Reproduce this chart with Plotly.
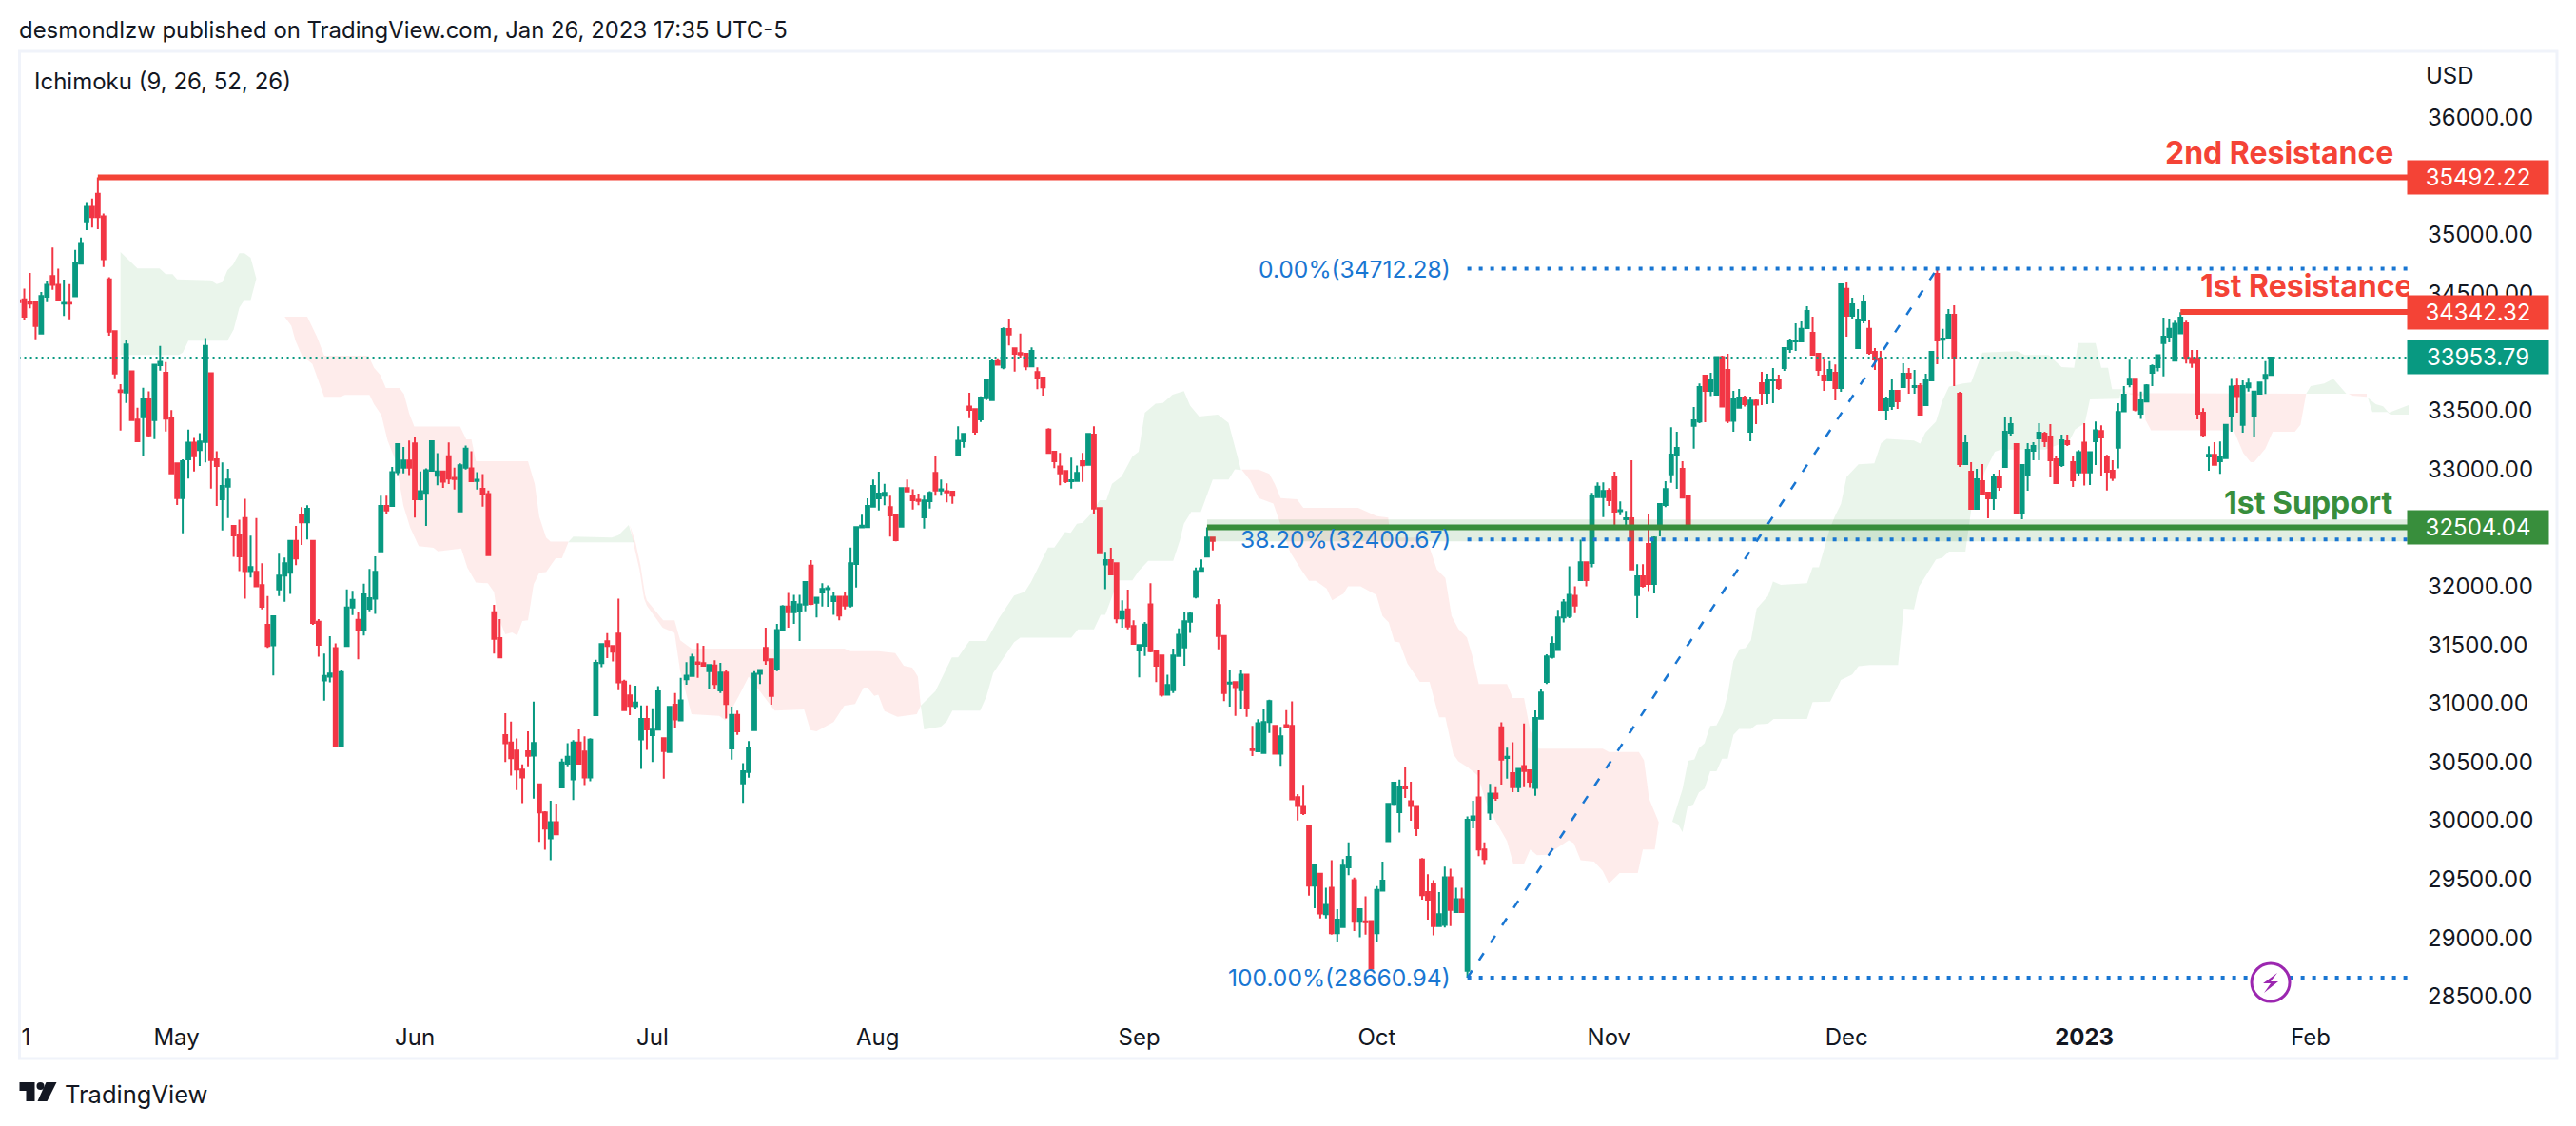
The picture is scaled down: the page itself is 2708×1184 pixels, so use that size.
import plotly.graph_objects as go

# --- candles, one per bar ---
open_ = [
    34442,34451,34426,34426,34159,34473,34650,34575,34414,34420,
    34476,34755,35116,35240,35352,35159,34622,34178,33674,33656,
    33836,33423,33445,33603,33420,33889,33824,33438,33050,32755,
    33084,33227,33165,33233,33820,33084,32743,32851,32516,32444,
    32584,32132,32126,32011,31673,31499,31975,32093,32116,32388,
    32609,32547,32388,31699,31197,31230,31473,30639,31492,31821,
    31716,31630,31811,31896,32299,32687,32687,32976,33013,33075,
    33221,32743,32799,32988,32945,32982,33112,32926,32640,33013,
    33007,32901,32833,32789,31781,31558,30731,30669,30600,30436,
    30593,30557,30311,30071,29851,29989,30285,30488,30354,30669,
    30590,30370,30902,31345,31532,31492,31598,31187,31069,30978,
    30695,30869,30731,30777,30705,30587,30991,30857,31208,31236,
    31351,31345,31277,31326,31112,31264,30618,30904,30320,30416,
    30773,31255,31475,31379,31298,31628,31829,31780,31786,31845,
    32177,31861,31948,31976,31876,31913,31913,31836,32193,32504,
    32507,32681,32752,32774,32677,32612,32510,32839,32774,32739,
    32590,32727,32969,32820,32814,32808,33125,33240,33535,33513,
    33426,33606,33591,33923,33870,34196,34032,33991,33985,33879,
    33830,33783,33339,33150,33025,32985,32898,32901,33069,33038,
    33295,32668,32187,32224,32199,31727,31805,31662,31454,31494,
    31848,31447,31410,31075,31115,31407,31479,31699,31913,32134,
    32255,32417,31842,31578,31171,31183,31115,31246,30609,30593,
    30578,30842,30811,30572,30817,30811,30202,30127,29960,29446,
    29547,29203,29428,29040,29094,29602,29493,29138,29142,29145,
    29040,29403,29826,30145,30073,30287,30167,30127,29670,29391,
    29457,29101,29112,29518,29221,29330,28721,30008,30200,29754,
    30069,30232,30797,30536,30406,30287,30468,30431,30280,30870,
    31185,31399,31457,31736,31747,31921,32055,32207,32200,32762,
    32762,32817,32939,32642,32574,32582,31927,32087,32363,32022,
    32501,32696,32958,33120,33004,32769,33372,33407,33800,33670,
    33637,33957,33848,33413,33526,33613,33321,33586,33735,33654,
    33759,33767,33865,34027,34092,34092,34206,34165,33986,33800,
    33759,33824,33694,34539,34311,34035,34271,34198,34003,33946,
    33507,33540,33670,33702,33816,33702,33710,33548,33759,34668,
    34106,34124,34319,33646,33045,32980,32663,32899,32801,32753,
    32939,33020,33313,33215,32631,32955,33158,33264,33305,33280,
    33085,33037,33240,33061,32974,33226,32974,33240,33326,33110,
    32988,33185,33494,33727,33773,33475,33578,33824,33873,34078,
    34133,33927,34160,34246,33949,33949,33483,33110,33123,33069,
    33096,33453,33710,33380,33700,33453,33646,33773,33805,
]
high = [
    34560,34541,34675,34426,34513,34606,34892,34712,34619,34581,
    34873,34979,35280,35311,35492,35184,34640,34178,33727,34103,
    33836,33525,33696,33665,33898,34053,33914,33504,33050,33084,
    33339,33268,33308,34119,33820,33153,33059,33004,32516,32569,
    32749,32434,32584,32198,31919,31745,32280,32247,32388,32516,
    32677,32693,32388,31722,31427,31575,31515,31286,31975,31962,
    31781,32024,32149,32257,32774,32774,33019,33215,33190,33246,
    33271,32982,33007,33246,33137,32982,33230,33013,33050,33202,
    33153,32976,32960,32820,31844,31722,30918,30846,30702,30482,
    30764,31017,30311,30081,30170,30147,30531,30662,30688,30780,
    30721,30705,31374,31509,31601,31499,31896,31204,31164,31154,
    30984,30984,30961,31148,30705,30972,31090,31221,31354,31426,
    31516,31494,31329,31370,31348,31283,30975,30941,30491,30680,
    31277,31292,31649,31379,31680,31842,31944,31929,31929,32038,
    32224,31904,32028,32010,31951,31913,31954,32333,32507,32612,
    32752,32913,32979,32876,32774,32612,32845,32913,32830,32792,
    32774,32814,33109,32913,32879,32814,33367,33311,33653,33519,
    33622,33768,33942,33948,34212,34286,34032,34159,33985,34041,
    33870,33783,33351,33150,33140,32994,33100,33032,33140,33302,
    33367,32668,32295,32330,32199,31882,31972,31711,31500,31696,
    32028,31447,31410,31246,31469,31643,31783,31780,32162,32230,
    32504,32426,31892,31578,31283,31183,31283,31246,30811,30867,
    30950,31034,30811,30801,30944,31019,30227,30307,29960,29620,
    29547,29428,29663,29246,29674,29815,29515,29246,29355,29145,
    29442,29652,30145,30333,30352,30460,30333,30127,29681,29544,
    29493,29391,29609,29591,29428,29428,30036,30171,30431,29815,
    30316,30287,30841,30624,30671,30442,30830,30431,30942,31120,
    31421,31573,31801,31892,32171,32001,32399,32207,32798,32889,
    32889,32839,32980,32725,32644,33077,32190,32190,32615,32428,
    32709,32899,33359,33321,33069,32769,33532,33732,33800,33824,
    33962,33970,33986,33670,33686,33629,33621,33597,33832,33816,
    33865,33808,34035,34116,34246,34262,34392,34303,33995,33938,
    33922,33894,34579,34595,34465,34368,34490,34279,34035,34011,
    33621,33775,33670,33905,33865,33848,33735,33816,34003,34712,
    34198,34368,34400,33662,33296,33061,33004,33045,32801,32964,
    32996,33443,33443,33223,33037,33223,33231,33394,33321,33386,
    33110,33296,33296,33118,33164,33394,33145,33407,33375,33123,
    33077,33564,33710,33935,33773,33664,33727,33894,33976,34295,
    34287,34268,34341,34268,34019,34019,33521,33196,33231,33237,
    33380,33778,33781,33759,33781,33664,33740,33922,33962,
]
low = [
    34411,34277,34373,34109,34159,34426,34532,34442,34308,34280,
    34476,34749,35041,35063,35050,34727,34140,33777,33330,33566,
    33420,33240,33112,33277,33258,33842,33323,32966,32696,32454,
    32920,32982,33028,33059,32836,32687,32479,32584,32252,32132,
    31896,32077,32001,31804,31476,31240,31919,31870,31936,32182,
    32354,32401,31673,31401,31026,31181,30639,30639,31486,31755,
    31378,31581,31788,31765,32299,32615,32687,32951,32966,32951,
    32587,32733,32516,32982,32864,32842,32873,32827,32640,32997,
    32898,32827,32681,32267,31427,31394,30501,30386,30262,30150,
    30465,30190,29819,29753,29664,29884,30278,30465,30176,30488,
    30304,30337,30902,31312,31388,31361,31115,30944,30902,30951,
    30442,30606,30501,30777,30360,30578,30795,30848,31162,31230,
    31221,31323,31128,31121,31090,30873,30522,30733,30152,30367,
    30773,31168,31332,30991,31277,31628,31649,31680,31534,31789,
    31842,31736,31829,31826,31758,31711,31805,31820,31991,32504,
    32500,32681,32649,32693,32426,32385,32510,32811,32656,32693,
    32494,32665,32774,32774,32718,32705,33125,33184,33435,33296,
    33404,33591,33591,33889,33855,34056,33833,33954,33845,33879,
    33684,33628,33140,33010,32864,32882,32836,32892,32892,33038,
    32622,32283,31976,32094,31687,31649,31634,31510,31224,31407,
    31438,31183,31059,31075,31090,31407,31323,31603,31898,32131,
    32255,32308,31463,31022,30975,30895,30950,30888,30553,30587,
    30572,30749,30572,30469,30801,30183,30003,30049,29362,29254,
    29167,29167,29029,28964,29094,29536,29058,29007,29029,28739,
    28964,29403,29826,30134,29899,30196,30000,29870,29326,29156,
    29022,29101,29090,29101,29221,29221,28661,29935,29699,29623,
    30008,30171,30308,30359,30243,30243,30287,30280,30214,30870,
    31167,31384,31457,31693,31729,31773,32055,32001,32164,32755,
    32591,32688,32495,32609,32501,32146,31730,31992,31960,31941,
    32428,32677,32885,32834,32753,32487,33177,33394,33402,33624,
    33629,33535,33394,33321,33526,33535,33240,33386,33548,33556,
    33564,33678,33840,33995,34011,34089,34206,33978,33800,33670,
    33759,33589,33662,34133,34287,34035,34246,33978,33848,33499,
    33418,33507,33516,33694,33646,33646,33467,33548,33751,33897,
    33962,34124,33710,33020,33037,32655,32663,32793,32582,32655,
    32817,33020,33288,32615,32574,32817,33077,33077,33191,32931,
    32874,33020,33199,32850,32947,32861,32866,33037,32947,32820,
    32901,33007,33494,33700,33494,33429,33575,33710,33835,33794,
    34084,33922,34160,33903,33867,33426,33272,32988,33039,32961,
    33096,33321,33483,33313,33664,33280,33646,33643,33800,
]
close = [
    34426,34302,34414,34224,34479,34575,34575,34442,34420,34414,
    34762,34932,35240,35153,35153,34793,34175,33817,33659,34066,
    33420,33240,33603,33289,33892,33917,33432,32966,32755,33069,
    33227,33112,33237,34053,33078,33028,32858,32913,32435,32257,
    32132,32165,32001,31827,31492,31745,32093,32198,32388,32238,
    32547,32662,31689,31502,31237,31256,30639,31269,31821,31886,
    31630,31932,31899,32126,32687,32649,32976,33215,33075,33013,
    32743,32814,32991,33240,32982,32895,32920,32917,33035,33177,
    32898,32910,32786,32267,31552,31394,30662,30534,30436,30370,
    30554,30665,30071,29934,29989,29884,30498,30547,30669,30488,
    30370,30692,31348,31509,31492,31443,31181,30944,30981,31010,
    30869,30780,30777,31105,30596,30972,30864,31028,31239,31395,
    31339,31323,31329,31168,31264,30997,30904,30764,30422,30624,
    31255,31286,31370,31065,31628,31829,31780,31867,31848,32038,
    31851,31904,31979,31985,31913,31752,31836,32199,32507,32519,
    32687,32858,32792,32799,32606,32395,32839,32811,32736,32730,
    32733,32799,32820,32830,32802,32774,33243,33302,33507,33320,
    33612,33758,33920,33892,34196,34150,33985,33979,33879,34010,
    33774,33699,33140,33069,32966,32898,32907,32969,33035,33302,
    32665,32283,32224,32103,31727,31789,31659,31510,31500,31674,
    31447,31323,31075,31159,31410,31587,31702,31767,32131,32156,
    32417,32389,31578,31090,31180,31140,31246,30960,30603,30832,
    30842,31022,30572,30721,30801,30183,30127,30065,29446,29620,
    29210,29283,29040,29156,29616,29692,29138,29246,29134,28739,
    29410,29489,30145,30326,30287,30276,30127,29935,29366,29326,
    29101,29203,29518,29239,29330,29221,30008,30036,29754,29674,
    30232,30196,30522,30547,30287,30442,30424,30334,30877,31095,
    31403,31511,31736,31863,31928,31837,32207,32055,32769,32852,
    32816,32736,32639,32650,32582,32146,32087,32006,32022,32417,
    32704,32831,33126,33183,32758,32509,33418,33702,33670,33759,
    33957,33535,33413,33597,33613,33556,33586,33551,33654,33759,
    33767,33694,34035,34100,34097,34198,34352,33978,33848,33759,
    33848,33694,34579,34311,34409,34279,34425,33995,33938,33507,
    33605,33670,33581,33816,33775,33710,33467,33767,34003,34100,
    34116,34319,33954,33045,33223,32663,32915,32793,32753,32939,
    32850,33321,33386,32631,33037,33167,33199,33313,33240,33077,
    32882,33248,33215,32907,33145,32974,33145,33332,33272,32980,
    32926,33489,33637,33773,33510,33589,33716,33881,33973,34133,
    34198,34241,34295,33943,33908,33475,33294,33123,33039,33104,
    33380,33705,33624,33710,33732,33664,33740,33805,33954,
]
bars = list(range(len(open_)))

# --- ichimoku cloud, outline of each coloured patch: upper side then lower side ---
green1_x = [18,21,24.9,26,27.2,28,33.9,35,36,36.9,37.9,39,39.9,41,42,41,39.9,39,38,36.9,30,29,28.3,18]
green1_y = [34855,34715,34715,34665,34665,34622,34612,34581,34597,34699,34746,34845,34845,34805,34628,34445,34445,34380,34193,34097,34097,33997,33976,33976]

red1_up_x = [47,51,52.7,54,61.8,62.8,63.9,64.9,67.3,68.1,69,69.9,78,79.1,80,80.8,90,91.2,92,93.2,94,97.2]
red1_up = [34302,34302,34131,33970,33970,33867,33805,33693,33693,33640,33479,33364,33364,33255,33255,33069,33069,32873,32594,32417,32382,32382]
red1_lo_x = [47,48.2,48.9,50,51.9,54,56.8,57.7,62,62.8,64.1,65.2,66.6,68,69.2,70.7,73.3,74.1,78.2,79.3,80.8,82.9,84,84.6,86,87.2,88.1,89,90,91,92,93.2,94.9,96,97.2]
red1_lo = [34302,34224,34100,33976,33898,33619,33619,33634,33634,33556,33463,33246,33075,32687,32500,32345,32330,32299,32323,32159,32034,32027,31952,31755,31591,31607,31581,31706,31712,32018,32116,32123,32241,32241,32385]

green2_x = [97.2,98,104.8,106,107.8,108.7,97.2]
green2_y = [32382,32426,32417,32438,32525,32376,32376]

red2_up_x = [108,109,109.9,110.7,111,113.9,115.9,116.9,118.9,145.9,147,151.9,154.9,156.4,157.9,158.9,159.4]
red2_up = [32525,32376,32177,31929,31882,31711,31711,31541,31469,31469,31447,31447,31432,31323,31308,31230,30982]
red2_lo_x = [108,108.8,109.7,110.5,111,113.8,115.9,116.9,118.9,123.8,124.9,127.2,129,133.6,138.8,139.9,141,144,145.9,147.8,149.3,150,151.2,151.9,153,155.3,158.7,159.4]
red2_lo = [32525,32333,32146,31898,31836,31649,31603,31277,30910,30895,30857,31059,31230,30941,30950,30773,30764,30842,30982,30997,31137,31137,31065,31075,30935,30888,30910,30982]

green3_up_x = [159.4,162,164.9,166,168,171,173.2,175.9,177.8,178.9,181.9,183,184.9,185.9,187,188,189.8,191,192.2,193.2,194.9,196.8,197.9,199,200.9,202.2,203.9,205.9,207,208.6,211.9,213.8,216]
green3_up = [30982,31106,31395,31395,31534,31534,31727,31923,31954,32038,32333,32333,32463,32457,32535,32544,32637,32736,32736,32876,32938,33109,33150,33482,33560,33566,33637,33668,33544,33451,33466,33395,32994]
green3_lo_x = [159.4,160,163,164,165,169.9,171,172.2,175.9,177,186,187.2,190,191.2,192,194.3,196.8,197.9,199.6,204,205.2,205.9,207.2,208.9,211,213.8,214.9,216]
green3_lo = [30982,30780,30805,30848,30941,30941,31059,31261,31525,31562,31562,31634,31634,31758,31758,32053,32053,32131,32218,32218,32395,32535,32637,32637,32913,32913,33000,32994]

red3_up_x = [216.1,219.1,221,222,223,225.9,227,236.7,240,242,242.4,247.2,249.1,250.6,252.1,253.2,254.4,255.9,257,258,263,264,266,267.1,268.6,279.9,281,286.3,287.2,288.1,289.8]
red3_up = [32997,32997,32961,32870,32754,32744,32671,32671,32599,32588,32417,32417,32363,32146,32073,31747,31638,31566,31385,31167,31167,31048,31048,30769,30616,30616,30587,30587,30515,30189,29989]
red3_lo_x = [216.1,217.6,219.1,221.7,223.2,224.7,226.6,228,229.2,231.1,232.1,234.1,234.9,237.1,239.9,241,242.1,243.1,244,245.4,247.6,249.3,251,252.1,253.5,254.4,256,257.8,259.6,261.9,263,264.1,266,267.1,268.3,270.1,273.9,274.8,276,278.4,279.9,281,282.9,286.1,287,289.1,289.8]
red3_lo = [32997,32907,32754,32707,32508,32291,32146,32048,32048,31983,31881,31939,32001,32001,31928,31747,31693,31530,31522,31341,31185,31185,30884,30884,30569,30508,30460,30388,30116,29917,29826,29634,29634,29754,29707,29710,29834,29808,29663,29652,29573,29464,29554,29554,29754,29754,29989]

green4_up_x = [289.9,292.2,294,295,296.1,296.9,297.9,298.9,300,301.1,302,303,304.1,305.1,306.1,307.1,309.1,310,311.4,316,317,318.1,320,320.9,322,323,325.1,327.9,329.1,330.1,334.9,336,336.9,338.8,339.9,341.1,343.6,345,347,353.1,354.5,358.7,361,363.2,363.9,367,368,369.2,369.9,371.6]
green4_up = [29993,29993,30269,30512,30523,30620,30661,30810,30815,30918,31080,31365,31465,31473,31540,31811,31919,32041,32014,32027,32163,32163,32487,32596,32704,32934,33042,33050,33223,33259,33245,33218,33313,33407,33583,33705,33732,33740,33997,34008,33976,33976,33873,33867,34078,34078,33867,33867,33683,33683]
green4_lo_x = [289.9,292.2,293.2,294,294.9,295.9,296.9,297.9,298.9,300,301,302,303,304,306.1,307.1,309.1,310.1,316,317,320.1,322,324,325.1,327.1,332.1,333.1,334.9,335.8,338.8,339.9,341.1,344,345,347.5,349.2,350.3,358.1,362.4,363.4,365.1,366,371.2,371.6]
green4_lo = [29993,29993,29971,29903,30120,30139,30242,30274,30423,30423,30531,30531,30734,30783,30783,30823,30829,30869,30869,31013,31018,31202,31248,31319,31329,31329,31811,31805,32000,32230,32244,32298,32298,32650,32988,33150,33169,33169,33245,33340,33394,33597,33602,33683]

red4_x = [371.6,372.2,404.2,403.2,402.2,398.3,397,395,394.4,393.1,391.4,376.8,375.8,375.5,373.2]
red4_y = [33683,33651,33646,33380,33321,33321,33177,33061,33061,33137,33332,33332,33421,33624,33637]

green5_x = [404.2,405,407.4,409,411.3]
green5_y = [33646,33710,33732,33773,33646]

red5_x = [411.7,414.9,414.9,412.3]
red5_y = [33646,33646,33618,33629]

green6_x = [415.1,416.5,417.8,418.8,422.3,422.3,419.1,418.5,415.9]
green6_y = [33610,33556,33537,33483,33548,33467,33467,33489,33489]

# --- levels and drawings ---
resistance2 = 35492.22
resistance1 = 34342.32
support1 = 32504.04
last_price = 33953.79
fib_0 = 34712.28
fib_382 = 32400.67
fib_100 = 28660.94
support_band = [32385, 32572]
res2_start = 14
res1_start = 382
support_start = 210
fib_start = 256
fib_end = 339
x_end = 422.3

price_ticks = [28500,29000,29500,30000,30500,31000,31500,32000,32500,33000,33500,34000,34500,35000,35500,36000]
month_ticks = [1.3,27.9,70,112,151.8,198,240,281,323,365,405]
month_labels = ["1","May","Jun","Jul","Aug","Sep","Oct","Nov","Dec","<b>2023</b>","Feb"]

UP = "#089981"
DOWN = "#F23645"
RED = "#F44336"
GREEN = "#388E3C"
BLUE = "#1976D2"
INK = "#131722"
FONT = "Inter"

# plot area inside the 2708x1184 page
L, R, T, B = 20.5, 2532, 55, 1072


def px(x):
    return (x - L) / (R - L)


def py(y):
    return 1 - (y - T) / (B - T)


def poly(points):
    return "M " + " L ".join(f"{px(x):.5f},{py(y):.5f}" for x, y in points) + " Z"


def cloud(x, y, colour):
    return go.Scatter(x=x, y=y, mode="lines", fill="toself", fillcolor=colour,
                      line=dict(width=0), hoverinfo="skip", showlegend=False)


CLOUD_G = "rgba(67,160,71,0.11)"
CLOUD_R = "rgba(244,67,54,0.10)"

fig = go.Figure()
fig.add_trace(cloud(green1_x, green1_y, CLOUD_G))
fig.add_trace(cloud(red1_up_x + red1_lo_x[::-1], red1_up + red1_lo[::-1], CLOUD_R))
fig.add_trace(cloud(green2_x, green2_y, CLOUD_G))
fig.add_trace(cloud(red2_up_x + red2_lo_x[::-1], red2_up + red2_lo[::-1], CLOUD_R))
fig.add_trace(cloud(green3_up_x + green3_lo_x[::-1], green3_up + green3_lo[::-1], CLOUD_G))
fig.add_trace(cloud(red3_up_x + red3_lo_x[::-1], red3_up + red3_lo[::-1], CLOUD_R))
fig.add_trace(cloud(green4_up_x + green4_lo_x[::-1], green4_up + green4_lo[::-1], CLOUD_G))
fig.add_trace(cloud(red4_x, red4_y, CLOUD_R))
fig.add_trace(cloud(green5_x, green5_y, CLOUD_G))
fig.add_trace(cloud(red5_x, red5_y, CLOUD_R))
fig.add_trace(cloud(green6_x, green6_y, CLOUD_G))

# candles sit on an overlaid pair of axes so they stay above the cloud
fig.add_trace(go.Candlestick(
    x=bars, open=open_, high=high, low=low, close=close, xaxis="x2", yaxis="y2",
    increasing=dict(line=dict(color=UP, width=2), fillcolor=UP),
    decreasing=dict(line=dict(color=DOWN, width=2), fillcolor=DOWN),
    whiskerwidth=0, showlegend=False))


def level(x, y, colour, width, dash="solid"):
    fig.add_trace(go.Scatter(x=x, y=y, mode="lines", xaxis="x2", yaxis="y2",
                             line=dict(color=colour, width=width, dash=dash),
                             hoverinfo="skip", showlegend=False))


# translucent band around the support
fig.add_trace(go.Scatter(
    x=[support_start, x_end, x_end, support_start],
    y=[support_band[0], support_band[0], support_band[1], support_band[1]],
    mode="lines", fill="toself", fillcolor="rgba(56,142,60,0.15)", line=dict(width=0),
    xaxis="x2", yaxis="y2", hoverinfo="skip", showlegend=False))

level([0, x_end], [last_price, last_price], UP, 2, "2px,4px")
level([fib_start, x_end], [fib_0, fib_0], BLUE, 4, "4px,8px")
level([fib_start, x_end], [fib_382, fib_382], BLUE, 4, "4px,8px")
level([fib_start, x_end], [fib_100, fib_100], BLUE, 4, "4px,8px")
level([fib_start, fib_end], [fib_100, fib_0], BLUE, 2.5, "9px,13px")
level([res2_start, x_end], [resistance2, resistance2], RED, 6)
level([res1_start, x_end], [resistance1, resistance1], RED, 6)
level([support_start, x_end], [support1, support1], GREEN, 6)

# this one runs into the price scale and gets cut there
fig.add_trace(go.Scatter(
    x=[385.5], y=[34540], mode="text", text=["<b>1st Resistance</b>"], textposition="middle right",
    textfont=dict(family=FONT, size=32, color=RED), xaxis="x2", yaxis="y2",
    hoverinfo="skip", showlegend=False, cliponaxis=True))

annotations = []


def note(text, x, y, size=24, colour=INK, anchor="left", **kw):
    annotations.append(dict(text=text, x=px(x), y=py(y), xref="paper", yref="paper", showarrow=False,
                            xanchor=anchor, yanchor="middle", font=dict(family=FONT, size=size, color=colour), **kw))


note("desmondlzw published on TradingView.com, Jan 26, 2023 17:35 UTC-5", 17, 31, size=23.9)
note("Ichimoku (9, 26, 52, 26)", 34, 86)
note("USD", 2548, 79)
note("TradingView", 66, 1150, size=25.5)
note("<b>2nd Resistance</b>", 2518, 160, size=32, colour=RED, anchor="right")
note("<b>1st Support</b>", 2518, 528, size=32, colour=GREEN, anchor="right")

for value, colour in [(resistance2, RED), (resistance1, RED), (last_price, UP), (support1, GREEN)]:
    annotations.append(dict(text=f"{value:.2f}", x=1, y=value, xref="paper", yref="y", showarrow=False,
                            xanchor="left", yanchor="middle", xshift=-2, width=146, height=33, align="center",
                            bgcolor=colour, font=dict(family=FONT, size=24, color="white")))

for value, label in [(fib_0, "0.00%"), (fib_382, "38.20%"), (fib_100, "100.00%")]:
    annotations.append(dict(text=f"{label}({value:.2f})", x=fib_start, y=value, xref="x", yref="y", showarrow=False,
                            xanchor="right", yanchor="middle", xshift=-16,
                            font=dict(family=FONT, size=24.6, color=BLUE)))

shapes = [
    # chart frame
    dict(type="rect", xref="paper", yref="paper", x0=px(20), x1=px(2688), y0=py(1113), y1=py(54),
         line=dict(color="#F0F3FA", width=3), layer="below"),
    # TradingView logo
    dict(type="path", xref="paper", yref="paper", line=dict(width=0), fillcolor=INK,
         path=poly([(20, 1138), (36, 1138), (36, 1158), (27, 1158), (27, 1147), (20, 1147)])),
    dict(type="circle", xref="paper", yref="paper", x0=px(38), x1=px(46), y0=py(1146), y1=py(1138),
         line=dict(width=0), fillcolor=INK),
    dict(type="path", xref="paper", yref="paper", line=dict(width=0), fillcolor=INK,
         path=poly([(48, 1138), (59, 1138), (49, 1158), (39, 1158)])),
    # lightning marker on the time scale
    dict(type="circle", xref="paper", yref="paper", x0=px(2367), x1=px(2407), y0=py(1053), y1=py(1013),
         line=dict(color="#9C27B0", width=3), fillcolor="white"),
    dict(type="path", xref="paper", yref="paper", line=dict(width=0), fillcolor="#9C27B0",
         path=poly([(2394, 1023), (2379, 1034), (2387, 1034), (2380, 1044), (2395, 1032), (2387, 1032)])),
]

x_range = [0.24, x_end]
y_range = [28304, 36559]

fig.update_layout(
    width=2708, height=1184, autosize=False,
    margin=dict(l=L, r=2708 - R, t=T, b=1184 - B, pad=0),
    paper_bgcolor="white", plot_bgcolor="white", showlegend=False,
    boxgap=0.36, boxgroupgap=0,
    annotations=annotations, shapes=shapes,
    xaxis=dict(range=x_range, showgrid=False, zeroline=False, showline=False, ticks="",
               tickmode="array", tickvals=month_ticks, ticktext=month_labels,
               tickfont=dict(family=FONT, size=24, color=INK), ticklabelstandoff=2),
    yaxis=dict(range=y_range, side="right", showgrid=False, zeroline=False, showline=False, ticks="",
               tickmode="array", tickvals=price_ticks, tickformat=".2f",
               tickfont=dict(family=FONT, size=24, color=INK), ticklabelstandoff=19),
    xaxis2=dict(range=x_range, overlaying="x", visible=False, rangeslider=dict(visible=False)),
    yaxis2=dict(range=y_range, overlaying="y", side="right", visible=False),
)

fig.write_html("out.html", config=dict(displayModeBar=False), post_script="document.body.style.margin='0';")
